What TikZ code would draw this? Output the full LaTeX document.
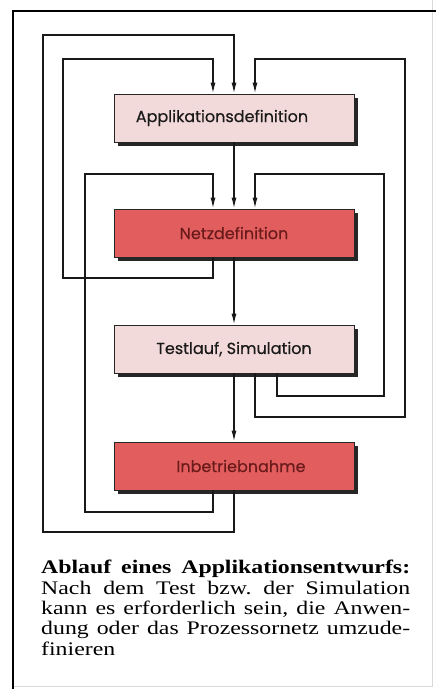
\documentclass[tikz,border=0pt]{standalone}
\usepackage{fontspec}
\setmainfont{Liberation Serif}[FakeStretch=1.24]
\newfontfamily\boxfont{Poppins}[FakeBold=0.4]
\usetikzlibrary{arrows.meta,shadows}
\definecolor{pinkbox}{HTML}{F3DADA}
\definecolor{redbox}{HTML}{E25E5E}
\definecolor{redtext}{HTML}{6A1A1A}
\hfuzz=20pt
\hbadness=10000
\frenchspacing
\begin{document}
\begin{tikzpicture}[x=1pt,y=-1pt,
  conn/.style={line width=1.4pt,black!90},
  arr/.style={conn,-{Latex[length=11pt,width=5pt]}},
  flowbox/.style={draw=black!85,line width=0.8pt,minimum width=240pt,minimum height=48pt,
    inner sep=0pt,font=\boxfont\fontsize{16}{18}\selectfont,
    drop shadow={shadow xshift=4pt,shadow yshift=-4pt,fill=black!85,opacity=1}},
  pbox/.style={flowbox,fill=pinkbox,text=black!90},
  rbox/.style={flowbox,fill=redbox,text=redtext}]
\useasboundingbox (0,0) rectangle (436,689);
% frame
\draw[gray!30,line width=0.8pt] (432,0) -- (432,686) -- (13,686);
\draw[line width=2.2pt] (13,689) -- (13,11) -- (436,11);
% boxes
\node[pbox] (app) at (234,118) {\hspace*{-24pt}Applikationsdefinition};
\node[rbox] (netz) at (234,233) {Netzdefinition};
\node[pbox] (test) at (234,349) {Testlauf, Simulation};
\node[rbox] (inb) at (234,466) {\hspace*{14pt}Inbetriebnahme};
% anchor points
\coordinate (appL) at ([xshift=-21pt]app.north);
\coordinate (appR) at ([xshift=21pt]app.north);
\coordinate (netzL) at ([xshift=-21pt]netz.north);
\coordinate (netzR) at ([xshift=21pt]netz.north);
\coordinate (netzLs) at ([xshift=-21pt]netz.south);
\coordinate (testRs) at ([xshift=21pt]test.south);
\coordinate (testRRs) at ([xshift=43pt]test.south);
\coordinate (inbLs) at ([xshift=-21pt]inb.south);
% straight flow
\draw[arr] (app.south) -- (netz.north);
\draw[arr] (netz.south) -- (test.north);
\draw[arr] (test.south) -- (inb.north);
% feedback loops
\draw[arr] (inb.south) |- (43,532) -- (43,35) -| (app.north);
\draw[arr] (netzLs) |- (63,278) -- (63,59) -| (appL);
\draw[arr] (testRs) |- (405,417) -- (405,59) -| (appR);
\draw[arr] (inbLs) |- (85,512) -- (85,174) -| (netzL);
\draw[arr] (testRRs) |- (384,396) -- (384,174) -| (netzR);
% caption
\node[anchor=north west,text width=369pt,inner sep=0pt,align=justify,
  font=\fontsize{19.2}{20.4}\selectfont] (cap) at (41,560)
  {\textbf{Ablauf eines Applikationsentwurfs:}\linebreak
   Nach dem Test bzw. der Simulation\linebreak
   kann es erforderlich sein, die Anwen-\linebreak
   dung oder das Prozessornetz umzude-\linebreak
   finieren};
\end{tikzpicture}
\end{document}
